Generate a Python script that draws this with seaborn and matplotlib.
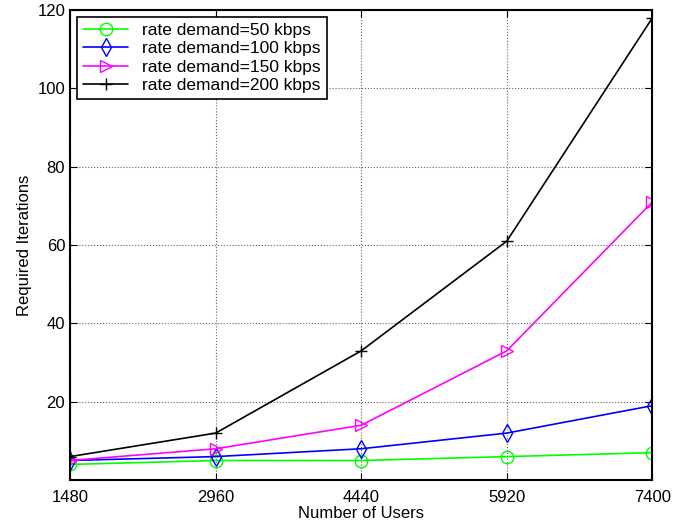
import pandas as pd
import numpy as np
import matplotlib.pyplot as plt
import seaborn as sns

# data
users = [1480, 2960, 4440, 5920, 7400]
iters_50 = [4, 5, 5, 6, 7]
iters_100 = [5, 6, 8, 12, 19]
iters_150 = [5, 8, 14, 33, 71]
iters_200 = [6, 12, 33, 61, 118]
labels = ['rate demand=50 kbps', 'rate demand=100 kbps',
          'rate demand=150 kbps', 'rate demand=200 kbps']

sns.set_style('white')
plt.rcParams['font.family'] = ['Liberation Sans', 'DejaVu Sans']
plt.rcParams['text.color'] = 'black'
plt.rcParams['axes.labelcolor'] = 'black'
plt.rcParams['xtick.color'] = 'black'
plt.rcParams['ytick.color'] = 'black'

fig = plt.figure(figsize=(6.94, 5.27), dpi=100)
ax = fig.add_axes([0.101, 0.089, 0.839, 0.892])

colors = ['#00ff00', '#0000ff', '#ff00ff', '#000000']
markers = ['o', 'd', '>', '+']
for lab, vals, c, m in zip(labels, [iters_50, iters_100, iters_150, iters_200], colors, markers):
    df = pd.DataFrame({'Users': users, 'Iterations': vals})
    sns.lineplot(data=df, x='Users', y='Iterations', color=c, marker=m,
                 markersize=9, markerfacecolor='none', markeredgecolor=c,
                 markeredgewidth=1.0, linewidth=1.2, label=lab, ax=ax)

ax.set_xlim(1480, 7400)
ax.set_ylim(0, 120)
ax.set_xticks(users)
ax.set_yticks([20, 40, 60, 80, 100, 120])
ax.grid(True, linestyle=':', color='#666666', linewidth=0.8)
ax.tick_params(direction='in', length=5, labelsize=12, top=True, right=True,
               bottom=True, left=True, colors='black')
ax.tick_params(axis='x', pad=7)
for s in ax.spines.values():
    s.set_color('black')
    s.set_linewidth(1.5)
ax.set_xlabel('Number of Users', fontsize=12, labelpad=1)
ax.set_ylabel('Required Iterations', fontsize=12)

leg = ax.legend(loc='upper left', fontsize=12.5, frameon=True,
                fancybox=False, edgecolor='black', borderaxespad=0.4,
                handlelength=2.6, labelspacing=0.18, framealpha=1,
                borderpad=0.35)
leg.get_frame().set_linewidth(1.2)
for t in leg.get_texts():
    t.set_color('black')

fig.savefig('out.png', dpi=100)
